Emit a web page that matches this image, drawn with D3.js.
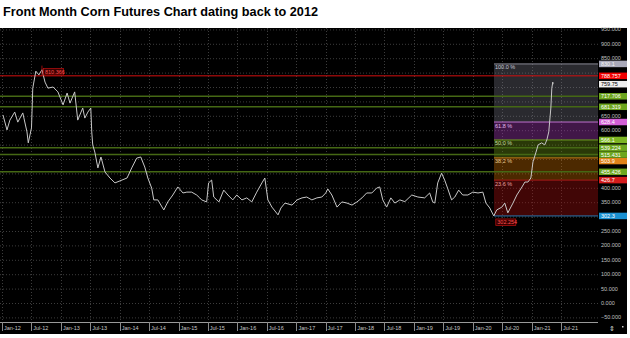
<!DOCTYPE html>
<html>
<head>
<meta charset="utf-8">
<script src="https://cdn.jsdelivr.net/npm/d3@7"></script>
<style>
body { margin: 0; background: #fff; }
svg { display: block; }
text { font-family: "Liberation Sans", Arial, sans-serif; }
</style>
</head>
<body>
<svg id="chart" width="630" height="338"></svg>
<script>
// front month corn, cents/bu
var priceDates = [
	'2012-01-07','2012-02-01','2012-02-19','2012-03-20','2012-04-08','2012-05-09','2012-06-04','2012-06-12',
	'2012-07-02','2012-07-10','2012-07-29','2012-08-17','2012-09-05','2012-09-24','2012-10-12','2012-11-13',
	'2012-12-13','2013-01-14','2013-02-08','2013-02-26','2013-03-27','2013-04-15','2013-05-16','2013-05-29',
	'2013-06-17','2013-07-05','2013-07-11','2013-07-17','2013-07-30','2013-08-18','2013-09-06','2013-10-01',
	'2013-11-01','2013-12-02','2014-01-15','2014-02-15','2014-03-16','2014-04-16','2014-05-11','2014-06-05',
	'2014-06-24','2014-07-18','2014-07-31','2014-08-25','2014-10-01','2014-10-26','2014-11-26','2014-12-27',
	'2015-01-28','2015-02-21','2015-03-23','2015-04-23','2015-05-12','2015-05-24','2015-06-24','2015-07-06',
	'2015-07-25','2015-08-07','2015-09-08','2015-10-08','2015-11-03','2015-12-03','2015-12-28','2016-01-29',
	'2016-02-28','2016-03-30','2016-04-30','2016-06-01','2016-06-19','2016-07-08','2016-08-02','2016-09-09',
	'2016-09-27','2016-10-22','2016-12-05','2017-01-05','2017-02-05','2017-03-06','2017-04-07','2017-05-08',
	'2017-06-08','2017-07-02','2017-07-15','2017-08-09','2017-09-10','2017-10-10','2017-11-11','2017-12-12',
	'2018-01-12','2018-02-12','2018-03-13','2018-04-14','2018-05-14','2018-06-02','2018-06-21','2018-07-15',
	'2018-08-10','2018-09-04','2018-10-05','2018-11-05','2018-12-18','2019-01-25','2019-03-08','2019-04-08',
	'2019-04-27','2019-05-10','2019-05-28','2019-06-21','2019-07-10','2019-07-28','2019-08-22','2019-09-11',
	'2019-10-05','2019-10-30','2019-12-01','2020-01-01','2020-02-02','2020-03-03','2020-03-22','2020-04-15',
	'2020-05-10','2020-05-28','2020-06-29','2020-07-17','2020-08-05','2020-09-06','2020-09-30','2020-11-01',
	'2020-11-19','2020-12-08','2020-12-26','2021-01-08','2021-01-27','2021-02-09','2021-03-03','2021-03-22',
	'2021-04-04','2021-04-16','2021-04-29','2021-05-05','2021-05-11','2021-05-13'
];
var priceValues = [
	653, 601, 635, 663, 628, 660, 594, 556,
	608, 746, 805, 792, 810, 767, 746, 750,
	733, 688, 729, 694, 733, 635, 677, 642,
	663, 677, 594, 549, 524, 469, 507, 455,
	434, 417, 427, 434, 469, 503, 507, 472,
	434, 399, 358, 358, 323, 351, 375, 403,
	382, 385, 385, 375, 365, 358, 351, 417,
	427, 368, 351, 392, 375, 358, 375, 358,
	365, 351, 385, 417, 434, 358, 333, 306,
	330, 347, 340, 358, 365, 368, 358, 365,
	368, 382, 396, 375, 333, 351, 347, 340,
	351, 365, 382, 382, 399, 403, 358, 333,
	365, 347, 358, 352, 375, 368, 365, 382,
	351, 347, 417, 451, 427, 399, 358, 368,
	392, 375, 375, 385, 382, 385, 347, 330,
	302.254, 323, 333, 347, 313, 347, 375, 403,
	420, 420, 434, 490, 524, 549, 556, 549,
	566, 594, 677, 746, 767, 759.75
];

var lastPrice = 759.75;
var lastLabel = '759.75';

// support / resistance lines across the whole chart
var levelValues = [788.757, 717.706, 681.319, 539.224, 515.431, 455.426];
var levelLabels = ['788.757', '717.706', '681.319', '539.224', '515.431', '455.426'];
var levelKinds = ['red', 'green', 'green', 'green', 'green', 'green'];

// fibonacci retracement box
var fibStart = '2020-05-10';
var fibPercents = ['100.0 %', '61.8 %', '50.0 %', '38.2 %', '23.6 %', '0.0 %'];
var fibValues = [830.1, 628.4, 566.1, 503.9, 426.7, 302.3];
var fibLabels = ['830.1', '628.4', '566.1', '503.9', '426.7', '302.3'];

var peakDate = '2012-09-05';
var peakValue = 810.366;
var lowDate = '2020-05-10';
var lowValue = 302.254;

var yTicks = d3.range(-50, 951, 50);

var svg = d3.select('#chart');
var parse = d3.timeParse('%Y-%m-%d');
var W = 630, H = 338;
var plotRight = 598;
var plotTop = 28, axisY = 322;

var x = d3.scaleTime().domain([parse('2012-01-01'), parse('2021-07-01')]).range([2, 561]);
var y = d3.scaleLinear().domain([-50, 950]).range([317.4, 29.4]);

var fibFill = [
	'rgba(140,140,155,0.30)',
	'rgba(170,60,190,0.38)',
	'rgba(110,150,20,0.38)',
	'rgba(210,115,0,0.36)',
	'rgba(170,15,15,0.38)'
];
var fibLine = ['#8a8a96', '#c070d0', '#6f9e20', '#c27a18', '#a81a1a', '#2a78b0'];
var fibTag = ['#a9a9b9', '#d35fd6', '#7db524', '#e0831a', '#d41c1c', '#1b91d2'];
var fibText = ['#c8c8d8', '#e0b8ec', '#c8dca0', '#e8c890', '#e8a0a0', '#a0b8d0'];

svg.append('rect').attr('x', 0).attr('y', 0).attr('width', W).attr('height', H).attr('fill', '#fff');
svg.append('rect').attr('x', 0).attr('y', plotTop).attr('width', 627).attr('height', 306).attr('fill', '#000');

svg.append('text')
	.attr('x', 3).attr('y', 16)
	.attr('font-family', '"Open Sans", sans-serif')
	.attr('font-weight', 'bold').attr('font-size', 13)
	.attr('textLength', 315).attr('lengthAdjust', 'spacingAndGlyphs')
	.attr('fill', '#000')
	.text('Front Month Corn Futures Chart dating back to 2012');

var xTicks = d3.timeMonth.every(6).range(parse('2012-01-01'), parse('2021-07-02'));

// grid
var grid = svg.append('g');
grid.selectAll('.hg').data(yTicks).enter().append('line')
	.attr('x1', 0).attr('x2', plotRight)
	.attr('y1', d => y(d) + 0.5).attr('y2', d => y(d) + 0.5)
	.attr('stroke', '#3c3c3c').attr('stroke-dasharray', '1,2');
grid.selectAll('.vg').data(xTicks).enter().append('line')
	.attr('x1', d => Math.round(x(d)) + 0.5).attr('x2', d => Math.round(x(d)) + 0.5)
	.attr('y1', plotTop).attr('y2', axisY)
	.attr('stroke', '#3c3c3c').attr('stroke-dasharray', '1,2');

// fib bands
var fx = Math.round(x(parse(fibStart)));
var bands = svg.append('g');
for (var i = 0; i < fibValues.length - 1; i++)
{
	bands.append('rect')
		.attr('x', fx).attr('width', plotRight - fx)
		.attr('y', y(fibValues[i])).attr('height', y(fibValues[i + 1]) - y(fibValues[i]))
		.attr('fill', fibFill[i]);
}
bands.selectAll('line').data(fibValues).enter().append('line')
	.attr('x1', fx).attr('x2', plotRight)
	.attr('y1', d => y(d)).attr('y2', d => y(d))
	.attr('stroke', (d, i) => fibLine[i]).attr('stroke-width', 1);
bands.selectAll('text').data(fibPercents.slice(0, 5)).enter().append('text')
	.attr('x', fx + 1).attr('y', (d, i) => y(fibValues[i]) + 5.5)
	.attr('font-size', 5.5).attr('fill', (d, i) => fibText[i])
	.text(d => d);

// full width levels
svg.append('g').selectAll('line').data(levelValues).enter().append('line')
	.attr('x1', 0).attr('x2', plotRight)
	.attr('y1', d => y(d)).attr('y2', d => y(d))
	.attr('stroke', (d, i) => levelKinds[i] == 'red' ? '#d41010' : '#456814')
	.attr('stroke-width', (d, i) => levelKinds[i] == 'red' ? 1 : 1.5);

// price
var series = priceDates.map((d, i) => ({date: parse(d), value: priceValues[i]}));
svg.append('path').datum(series)
	.attr('fill', 'none').attr('stroke', '#c8c8c8').attr('stroke-width', 1)
	.attr('stroke-linejoin', 'round')
	.attr('d', d3.line().x(d => x(d.date)).y(d => y(d.value)));

// peak and low tags
function tag(px, py, txt)
{
	var g = svg.append('g');
	g.append('rect').attr('x', px).attr('y', py).attr('width', 20).attr('height', 6.5)
		.attr('fill', '#3a0000').attr('stroke', '#c01010').attr('stroke-width', 0.7);
	g.append('text').attr('x', px + 1.5).attr('y', py + 5.2).attr('font-size', 5.5)
		.attr('fill', '#ff5050').text(txt);
}
var pkx = x(parse(peakDate));
svg.append('line').attr('x1', pkx).attr('x2', pkx).attr('y1', y(peakValue) - 4).attr('y2', y(levelValues[0]))
	.attr('stroke', '#c01010').attr('stroke-width', 0.8);
tag(pkx + 1.5, y(peakValue) - 1, d3.format('.3f')(peakValue));
tag(x(parse(lowDate)) + 2, y(lowValue) + 3, d3.format('.3f')(lowValue));

// x axis strip
var xa = svg.append('g');
xa.append('line').attr('x1', 0).attr('x2', plotRight).attr('y1', axisY + 0.5).attr('y2', axisY + 0.5)
	.attr('stroke', '#9a9a9a');
xa.selectAll('line.t').data(xTicks).enter().append('line')
	.attr('x1', d => Math.round(x(d)) + 0.5).attr('x2', d => Math.round(x(d)) + 0.5)
	.attr('y1', axisY).attr('y2', axisY + 9)
	.attr('stroke', '#8a8a8a');
xa.selectAll('text').data(xTicks).enter().append('text')
	.attr('x', d => x(d) + 2).attr('y', axisY + 7.5)
	.attr('font-size', 5.5).attr('fill', '#c8c8c8')
	.text(d => d3.timeFormat('%b-%y')(d));
svg.append('text').attr('x', 609).attr('y', 331).attr('font-family', '"DejaVu Sans", sans-serif')
	.attr('font-size', 7).attr('fill', '#ddd').text('\u21D5');
svg.append('rect').attr('x', 622).attr('y', 326).attr('width', 1.5).attr('height', 1.5).attr('fill', '#ccc');

// price tags on the right, nudged apart like the platform does
var tags = [];
fibValues.forEach((v, i) => tags.push({v: v, txt: fibLabels[i], bg: fibTag[i], fg: i == 0 ? '#f4f4f4' : '#fff', z: 0}));
levelValues.forEach((v, i) => tags.push({v: v, txt: levelLabels[i], bg: levelKinds[i] == 'red' ? '#f00000' : '#6da61e', fg: '#fff', z: 1}));
tags.push({v: lastPrice, txt: lastLabel, bg: '#eeeeee', fg: '#000', z: 2});
tags.sort((a, b) => b.v - a.v);
var prev = -100;
tags.forEach(t => {
	t.cy = Math.max(y(t.v), prev + 6.5);
	prev = t.cy;
});

// right axis, skipping values hidden under a tag
var axisVals = yTicks.filter(v => !tags.some(t => Math.abs(t.cy - y(v)) < 5.5));
svg.append('g').selectAll('text').data(axisVals).enter().append('text')
	.attr('x', 601).attr('y', d => y(d) + 2)
	.attr('font-size', 5.5).attr('fill', '#c0c0c0')
	.text(d => d3.format('.3f')(d));

tags.sort((a, b) => a.z - b.z);
var tg = svg.append('g').selectAll('g').data(tags).enter().append('g');
tg.append('rect').attr('x', 599).attr('y', d => d.cy - 3.25).attr('width', 28).attr('height', 6.5).attr('fill', d => d.bg);
tg.append('text').attr('x', 601).attr('y', d => d.cy + 2).attr('font-size', 5.5).attr('fill', d => d.fg).text(d => d.txt);
</script>
</body>
</html>
